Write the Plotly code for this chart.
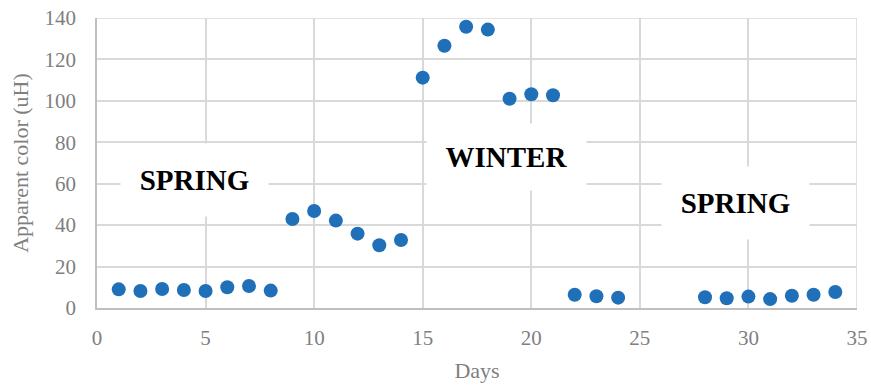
import plotly.graph_objects as go

days = [1, 2, 3, 4, 5, 6, 7, 8, 9, 10, 11, 12, 13, 14, 15, 16, 17, 18, 19, 20, 21,
        22, 23, 24, 28, 29, 30, 31, 32, 33, 34]
color_uh = [9.0, 8.2, 9.2, 8.7, 8.2, 10.0, 10.6, 8.4, 43.0, 46.8, 42.2, 35.9, 30.3, 32.8,
            111.2, 126.6, 135.8, 134.4, 101.0, 103.2, 102.7,
            6.4, 5.7, 5.0, 5.2, 4.7, 5.5, 4.3, 5.9, 6.4, 7.7]

season_labels = ["SPRING", "WINTER", "SPRING"]
season_x = [4.47, 18.88, 29.4]
season_y = [61.8, 73.0, 50.5]
season_w = [145, 157, 145]
season_h = [70, 64, 70]

FONT = "Liberation Serif, Times New Roman, serif"

fig = go.Figure()
fig.add_trace(go.Scatter(
    x=days, y=color_uh, mode="markers",
    marker=dict(size=14, color="#1f70b8"),
    showlegend=False,
))

for lab, xx, yy, w, h in zip(season_labels, season_x, season_y, season_w, season_h):
    fig.add_annotation(
        x=xx, y=yy, xref="x", yref="y", text="<b>" + lab + "</b>",
        showarrow=False, bgcolor="white", width=w, height=h,
        font=dict(family=FONT, size=29, color="black"),
        xanchor="center", yanchor="middle",
    )

fig.update_layout(
    width=871, height=387,
    margin=dict(l=97, r=14, t=18, b=79, autoexpand=False),
    paper_bgcolor="white", plot_bgcolor="white",
    font=dict(family=FONT, size=21, color="#7f7f7f"),
)
fig.update_xaxes(
    range=[0, 35], tick0=0, dtick=5, showgrid=True, gridcolor="#d9d9d9", gridwidth=1.5,
    showline=True, linecolor="#bfbfbf", linewidth=1.5, zeroline=False, automargin=False,
    ticks="outside", ticklen=10, tickcolor="rgba(0,0,0,0)",
    title=dict(text="Days", font=dict(size=22, color="#7f7f7f"), standoff=14),
    tickfont=dict(size=21, color="#7f7f7f"),
)
fig.update_yaxes(
    range=[0, 140], tick0=0, dtick=20, showgrid=True, gridcolor="#d9d9d9", gridwidth=1.5,
    showline=True, linecolor="#bfbfbf", linewidth=1.5, zeroline=False, automargin=False,
    ticks="outside", ticklen=15, tickcolor="rgba(0,0,0,0)",
    title=dict(text="Apparent color (uH)", font=dict(size=22, color="#7f7f7f"), standoff=10),
    tickfont=dict(size=21, color="#7f7f7f"),
)
fig.add_shape(type="line", xref="x", yref="paper", x0=35, x1=35, y0=0, y1=1,
              line=dict(color="#d9d9d9", width=1.5), layer="below")
fig.add_shape(type="line", xref="paper", yref="y", x0=0, x1=1, y0=140, y1=140,
              line=dict(color="#d9d9d9", width=1.5), layer="below")

fig.write_html("out.html", config={"displayModeBar": False},
               post_script="document.body.style.margin='0';")
